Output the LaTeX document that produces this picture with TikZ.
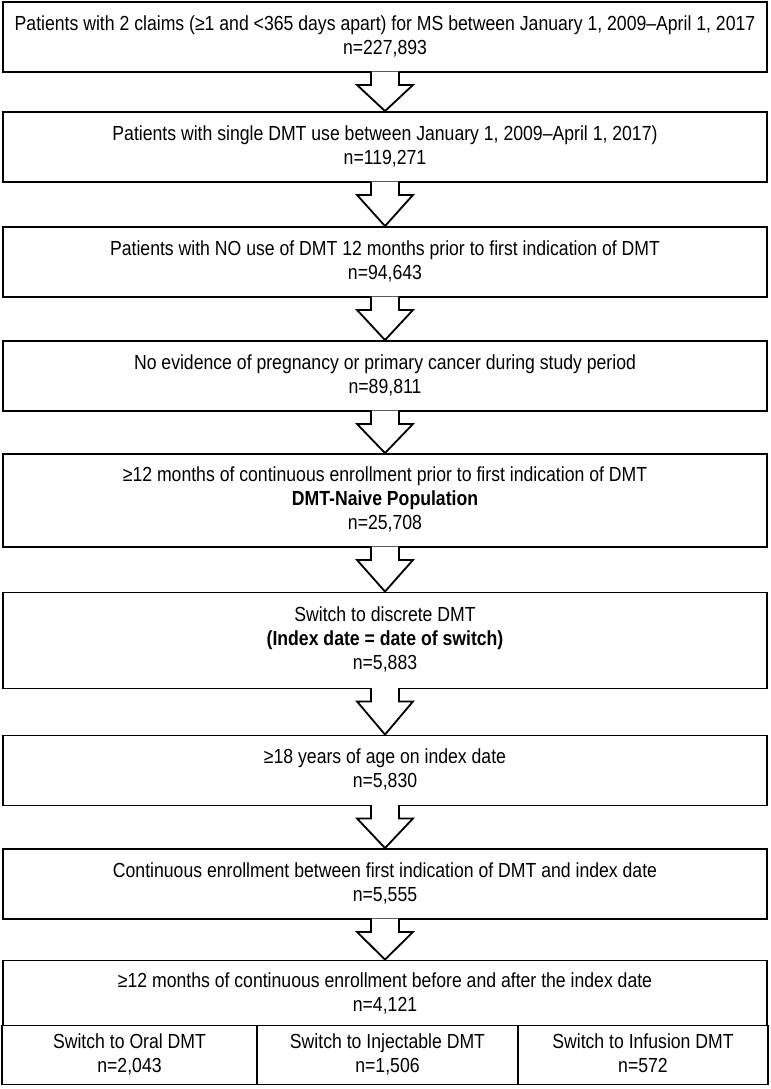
\documentclass[tikz,border=0pt]{standalone}
\usepackage{fontspec}
\setmainfont{Liberation Sans}[FakeStretch=0.865]
\usetikzlibrary{calc}

\begin{document}
\begin{tikzpicture}[x=0.025cm,y=-0.025cm,
  box/.style={draw,line width=1.3pt,fill=white,inner sep=0pt,align=center,text depth=3pt,
    minimum width=19.1cm,minimum height=1.75cm,font=\fontsize{14.5}{17}\selectfont},
  cell/.style={box,minimum height=1.475cm},
  hollow/.style={draw,line width=1.3pt,fill=white,line join=miter}]%[scale=1.0]
\useasboundingbox (0,0) rectangle (770,1089);
\node[box] (b1) at (385,37) {Patients with 2 claims (≥1 and <365 days apart) for MS between January 1, 2009–April 1, 2017\\n=227,893};
\node[box] (b2) at (385,147) {Patients with single DMT use between January 1, 2009–April 1, 2017)\\n=119,271};
\node[box] (b3) at (385,262) {Patients with NO use of DMT 12 months prior to first indication of DMT\\n=94,643};
\node[box] (b4) at (385,376) {No evidence of pregnancy or primary cancer during study period\\n=89,811};
\node[box,minimum height=2.325cm] (b5) at (385,500.5) {≥12 months of continuous enrollment prior to first indication of DMT\\\textbf{DMT-Naive Population}\\n=25,708};
\node[box,minimum height=2.4cm] (b6) at (385,640.5) {Switch to discrete DMT\\\textbf{(Index date = date of switch)}\\n=5,883};
\node[box] (b7) at (385,770.5) {≥18 years of age on index date\\n=5,830};
\node[box] (b8) at (385,884) {Continuous enrollment between first indication of DMT and index date\\n=5,555};
\node[box,minimum height=1.7cm] (b9) at (385,994.5) {≥12 months of continuous enrollment before and after the index date\\n=4,121};
% three arms
\node[cell,minimum width=6.375cm] (oral) at (129.5,1055) {Switch to Oral DMT\\n=2,043};
\node[cell,minimum width=6.525cm] (inj) at (387.5,1055) {Switch to Injectable DMT\\n=1,506};
\node[cell,minimum width=6.25cm] (inf) at (643,1055) {Switch to Infusion DMT\\n=572};
\foreach \a/\b in {b1/b2,b2/b3,b3/b4,b4/b5,b5/b6,b6/b7,b7/b8,b8/b9}
  \draw[hollow] ($(\a.south)+(-14,-1.2)$) -- ($(\a.south)+(-14,12)$) -- ($(\a.south)+(-28,12)$) -- (\b.north)
    -- ($(\a.south)+(28,12)$) -- ($(\a.south)+(14,12)$) -- ($(\a.south)+(14,-1.2)$);
\end{tikzpicture}
\end{document}
